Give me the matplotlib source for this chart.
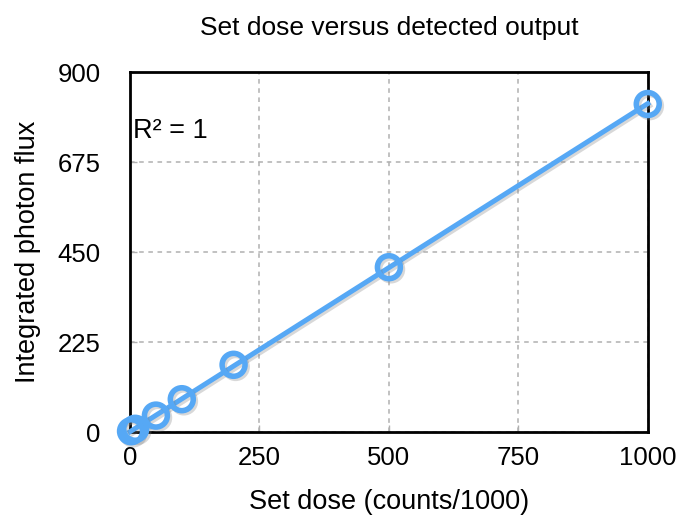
import numpy as np
import matplotlib.pyplot as plt
import matplotlib.patheffects as pe

plt.rcParams['font.family'] = ['Liberation Sans', 'DejaVu Sans']

dose = [2, 10, 50, 100, 200, 500, 1000]
flux = [2, 8, 41, 82, 168, 412, 820]
x_ticks = [0, 250, 500, 750, 1000]
y_ticks = [0, 225, 450, 675, 900]

blue = '#56a8f5'

fig = plt.figure(figsize=(6.79, 5.18), dpi=100)
ax = fig.add_axes([0.1915, 0.166, 0.7625, 0.695])

# linear trend line
k, b = np.polyfit(dose, flux, 1)
xs = np.array([0, 1000])
shadow = [pe.SimpleLineShadow(offset=(1.5, -1.5), shadow_color='gray', alpha=0.3), pe.Normal()]
ax.plot(xs, k * xs + b, color=blue, lw=3.6, zorder=3, path_effects=shadow, clip_on=False)
ax.plot(dose, flux, 'o', ms=16.5, mfc='none', mec=blue, mew=4, zorder=4, clip_on=False,
        path_effects=shadow)

ax.set_xlim(0, 1000)
ax.set_ylim(0, 900)
ax.set_xticks(x_ticks)
ax.set_yticks(y_ticks)
ax.grid(True, ls=(0, (3, 3)), color='#b0b0b0', lw=1.1)
ax.set_axisbelow(True)
for s in ax.spines.values():
    s.set_linewidth(2)
    s.set_color('black')
ax.tick_params(direction='in', length=5, width=1, color='#b0b0b0', labelsize=18.5)
ax.tick_params(axis='x', pad=10)
ax.tick_params(axis='y', pad=21)

ax.set_title('Set dose versus detected output', fontsize=19, pad=27)
ax.set_xlabel('Set dose (counts/1000)', fontsize=19.5, labelpad=14)
ax.set_ylabel('Integrated photon flux', fontsize=19.5, labelpad=12)
ax.text(0.005, 0.835, 'R² = 1', transform=ax.transAxes, fontsize=19.5, va='center', ha='left')

fig.savefig('out.png', dpi=100)
